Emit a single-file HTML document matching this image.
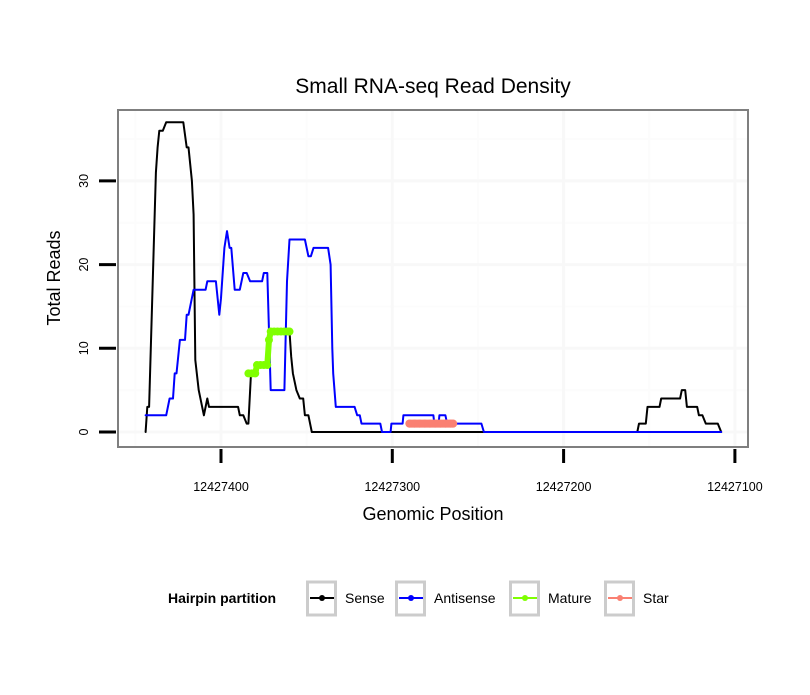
<!DOCTYPE html>
<html><head><meta charset="utf-8"><style>
body{margin:0;background:#fff}
svg text{font-family:"Liberation Sans",Arial,sans-serif}
</style></head><body>
<svg id="chart" width="810" height="690" xmlns="http://www.w3.org/2000/svg">
<rect width="810" height="690" fill="#fff"/>
<text x="433" y="93" font-size="21" text-anchor="middle" fill="#000">Small RNA-seq Read Density</text>
<g id="grid"></g>
<g id="series"></g>
<rect x="118" y="110" width="630" height="337" fill="none" stroke="#7f7f7f" stroke-width="2"/>
<g id="axes"></g>
<text x="433" y="520" font-size="18" text-anchor="middle">Genomic Position</text>
<text transform="translate(60,278) rotate(-90)" font-size="18" text-anchor="middle">Total Reads</text>
<g>
<text x="168" y="603" font-size="14" font-weight="bold">Hairpin partition</text>
<g id="legend"></g>
</g>
</svg>
<script>
const senseData=[[444,0],[443,3],[442,3],[438,31],[437,34],[436,36],[434,36],[432,37],[422,37],[420,34],[419,34],[417,30],[416,26],[415,8.6],[413,5],[410,2],[408,4],[407,3],[390,3],[389,2],[387,2],[385,1],[384,1],[382.5,7],[379,7],[378,8],[373,8],[372,11],[371,12],[360,12],[359,9],[358,7],[356,5],[354,4],[352,4],[351,2],[349,2],[347,0],[157,0],[156,1],[152,1],[151,3],[144,3],[143,4],[132,4],[131,5],[129,5],[128,3],[122,3],[121,2],[119,2],[117,1],[110,1],[108,0]];
const antisenseData=[[444,2],[432,2],[430,4],[428,4],[427,7],[426,7],[425,9],[424,11],[421,11],[420,14],[419,14],[416,17],[409,17],[408,18],[403,18],[401,14],[400,16],[398,22],[396.5,24],[395,22],[394,22],[392,17],[389,17],[387,19],[385,19],[383,18],[376,18],[375,19],[373,19],[371,5],[363,5],[361.5,18],[360,23],[351,23],[349,21],[347.5,21],[346,22],[337.5,22],[336,20],[335,10],[334.5,7],[333,3],[322,3],[320.5,2],[319,2],[318,1],[307,1],[306,0],[301,0],[300.5,1],[294,1],[293.5,2],[276,2],[275.5,1],[273,1],[272.5,2],[269,2],[268,1],[248,1],[246.5,0],[108,0]];
const matureData=[[384,7],[382,7],[380,7],[379,8],[377,8],[375,8],[373,8],[372,11],[371,12],[369,12],[367,12],[365,12],[363,12],[361,12],[360,12]];
const starData=[[290,1],[287,1],[284,1],[281,1],[278,1],[275,1],[272,1],[269,1],[266,1],[264.5,1]];
const xTicks=[400,300,200,100];
const yTicks=[0,10,20,30];
const BASE=12427000;
const NS="http://www.w3.org/2000/svg";
const X=p=>221+(400-p)*1.713;
const Y=v=>432-v*8.37;
function mk(t,parent){const e=document.createElementNS(NS,t);parent.appendChild(e);return e;}
const grid=document.getElementById('grid'),series=document.getElementById('series'),axes=document.getElementById('axes'),legend=document.getElementById('legend');
[450,350,250,150].forEach(p=>{const l=mk('line',grid);l.setAttribute('x1',X(p));l.setAttribute('x2',X(p));l.setAttribute('y1',110);l.setAttribute('y2',447);l.setAttribute('stroke','#fcfcfc');l.setAttribute('stroke-width',2);

});
[5,15,25,35].forEach(v=>{const l=mk('line',grid);l.setAttribute('x1',118);l.setAttribute('x2',748);l.setAttribute('y1',Y(v));l.setAttribute('y2',Y(v));l.setAttribute('stroke','#fcfcfc');l.setAttribute('stroke-width',2);

});
xTicks.forEach(p=>{const l=mk('line',grid);l.setAttribute('x1',X(p));l.setAttribute('x2',X(p));l.setAttribute('y1',110);l.setAttribute('y2',447);l.setAttribute('stroke','#f8f8f8');l.setAttribute('stroke-width',3);

});
yTicks.forEach(v=>{const l=mk('line',grid);l.setAttribute('x1',118);l.setAttribute('x2',748);l.setAttribute('y1',Y(v));l.setAttribute('y2',Y(v));l.setAttribute('stroke','#f8f8f8');l.setAttribute('stroke-width',3);

});
function line(data,color,w,name){const p=mk('polyline',series);p.setAttribute('points',data.map(d=>X(d[0]).toFixed(1)+','+Y(d[1]).toFixed(1)).join(' '));p.setAttribute('fill','none');p.setAttribute('stroke',color);p.setAttribute('stroke-width',w);p.setAttribute('stroke-linejoin','round');p.setAttribute('stroke-linecap','round');

return p;}
line(senseData,'#000',2,'sense-line');
line(antisenseData,'#0000ff',2,'antisense-line');
line(matureData,'#7fff00',6,'mature-line');
line(starData,'#fa8072',8,'star-line');
[[matureData,'#7fff00','mature-point'],[starData,'#fa8072','star-point']].forEach(([d,c,n])=>d.forEach(pt=>{const e=mk('circle',series);e.setAttribute('cx',X(pt[0]));e.setAttribute('cy',Y(pt[1]));e.setAttribute('r',4);e.setAttribute('fill',c);

}));
xTicks.forEach(p=>{const l=mk('line',axes);l.setAttribute('x1',X(p));l.setAttribute('x2',X(p));l.setAttribute('y1',449);l.setAttribute('y2',463);l.setAttribute('stroke','#000');l.setAttribute('stroke-width',3);


const t=mk('text',axes);t.setAttribute('x',X(p));t.setAttribute('y',491);t.setAttribute('font-size',12.5);t.setAttribute('text-anchor','middle');t.textContent=String(BASE+p);

});
yTicks.forEach(v=>{const l=mk('line',axes);l.setAttribute('x1',99);l.setAttribute('x2',116);l.setAttribute('y1',Y(v));l.setAttribute('y2',Y(v));l.setAttribute('stroke','#000');l.setAttribute('stroke-width',3);


const t=mk('text',axes);t.setAttribute('transform','translate(88,'+Y(v)+') rotate(-90)');t.setAttribute('font-size',12.5);t.setAttribute('text-anchor','middle');t.textContent=String(v);

});
const legNames=['Sense','Antisense','Mature','Star'];
const legColors=['#000','#0000ff','#7fff00','#fa8072'];
const legX=[306,395,509,604];
legNames.forEach((n,i)=>{const g=mk('g',legend);


const r=mk('rect',g);r.setAttribute('x',legX[i]+1.5);r.setAttribute('y',582);r.setAttribute('width',28);r.setAttribute('height',33);r.setAttribute('fill','#fff');r.setAttribute('stroke','#cccccc');r.setAttribute('stroke-width',3);
const l=mk('line',g);l.setAttribute('x1',legX[i]+4);l.setAttribute('x2',legX[i]+28);l.setAttribute('y1',598);l.setAttribute('y2',598);l.setAttribute('stroke',legColors[i]);l.setAttribute('stroke-width',2);
const c=mk('circle',g);c.setAttribute('cx',legX[i]+16);c.setAttribute('cy',598);c.setAttribute('r',3);c.setAttribute('fill',legColors[i]);
const t=mk('text',g);t.setAttribute('x',legX[i]+39);t.setAttribute('y',603);t.setAttribute('font-size',14);t.textContent=n;});
</script>
</body></html>
